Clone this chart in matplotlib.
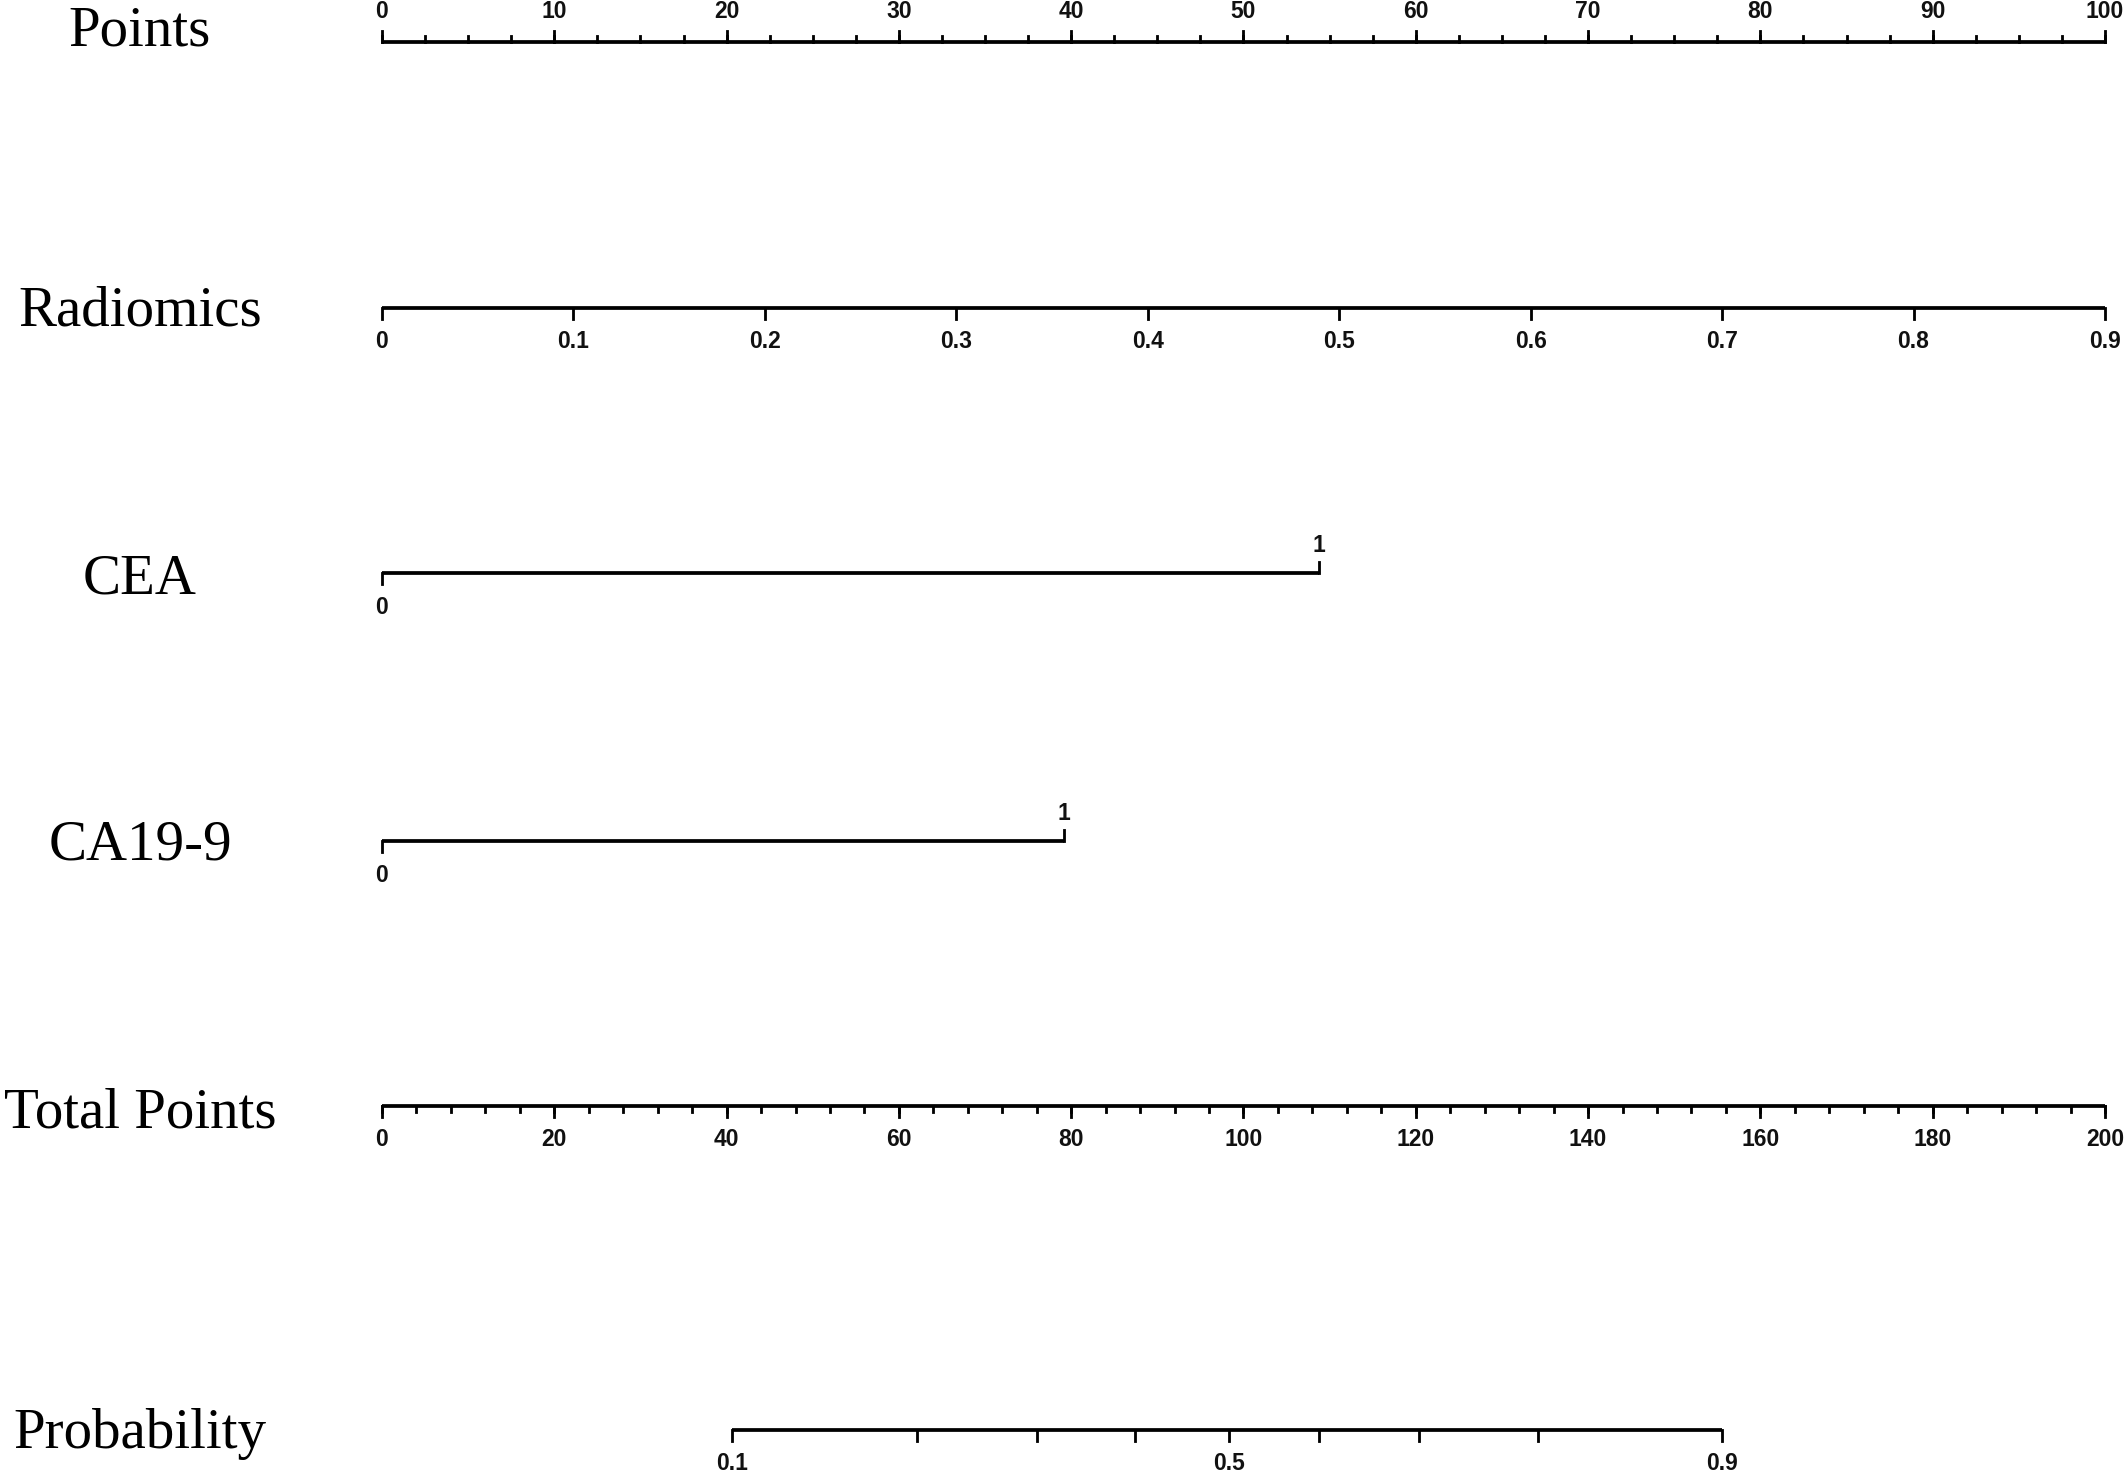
import matplotlib
matplotlib.use("Agg")
import matplotlib.pyplot as plt
import numpy as np

# nomogram rows
rowNames = ["Points", "Radiomics", "CEA", "CA19-9", "Total Points", "Probability"]

pointTicks = [0, 10, 20, 30, 40, 50, 60, 70, 80, 90, 100]
pointMinor = list(np.arange(0, 100.1, 2.5))

radiomicsTicks = [0, 0.1, 0.2, 0.3, 0.4, 0.5, 0.6, 0.7, 0.8, 0.9]
radiomicsMaxPoints = 100  # points at radiomics = 0.9

ceaValues = [0, 1]
ceaPoints = [0, 54.4]

ca199Values = [0, 1]
ca199Points = [0, 39.6]

totalTicks = [0, 20, 40, 60, 80, 100, 120, 140, 160, 180, 200]
totalMinor = list(range(0, 201, 4))

probTicks = [0.1, 0.2, 0.3, 0.4, 0.5, 0.6, 0.7, 0.8, 0.9]
probTotalPoints = [40.6, 62.1, 76.0, 87.4, 98.3, 108.8, 120.4, 134.2, 155.5]
probLabels = ["0.1", "", "", "", "0.5", "", "", "", "0.9"]

W, H = 2128, 1477
fig = plt.figure(figsize=(W / 100, H / 100), dpi=100)
ax = fig.add_axes([0, 0, 1, 1])
# x in points units: 0 -> pixel 382, 100 -> pixel 2105
pxPerPoint = (2105 - 382) / 100
ax.set_xlim(-382 / pxPerPoint, (W - 382) / pxPerPoint)
ax.set_ylim(H, 0)
ax.axis("off")

rowY = [42, 308, 573, 841, 1106, 1430]
labelY = [45, 326, 593, 859, 1127, 1448]
lw = 2.7
tickFont = dict(family="Liberation Sans", fontsize=16.5, fontweight="bold", color="#111111")


def scale(y, xs, labels, dirs, minor=None, majLen=11, minLen=6, labOff=34):
    ax.plot([min(xs), max(xs)], [y, y], color="black", lw=lw, solid_capstyle="butt")
    if minor is not None:
        for m in minor:
            ax.plot([m, m], [y, y + dirs[0] * minLen], color="black", lw=lw * 0.75)
    for x, lab, d in zip(xs, labels, dirs):
        ax.plot([x, x], [y, y + d * majLen], color="black", lw=lw * 0.75)
        if lab != "":
            ax.text(x, y + d * labOff, lab, ha="center", va="center", **tickFont)


# Points
scale(rowY[0], pointTicks, [str(t) for t in pointTicks], [-1] * len(pointTicks),
      minor=pointMinor, labOff=30)

# Radiomics
rx = [v / radiomicsTicks[-1] * radiomicsMaxPoints for v in radiomicsTicks]
scale(rowY[1], rx, [f"{v:g}" for v in radiomicsTicks], [1] * len(rx))

# CEA
scale(rowY[2], ceaPoints, [str(v) for v in ceaValues], [1, -1])
ax.texts[-1].set_y(rowY[2] - 27)

# CA19-9
scale(rowY[3], ca199Points, [str(v) for v in ca199Values], [1, -1])
ax.texts[-1].set_y(rowY[3] - 27)

# Total Points (0-200 drawn on the 0-100 points scale)
scale(rowY[4], [t / 2 for t in totalTicks], [str(t) for t in totalTicks], [1] * len(totalTicks),
      minor=[m / 2 for m in totalMinor])

# Probability
scale(rowY[5], [t / 2 for t in probTotalPoints], probLabels, [1] * len(probTicks))

for name, y in zip(rowNames, labelY):
    ax.text(140 / pxPerPoint - 382 / pxPerPoint, y, name, ha="center", va="baseline",
            family="Liberation Serif", fontsize=41)

fig.savefig("out.png", dpi=100)
